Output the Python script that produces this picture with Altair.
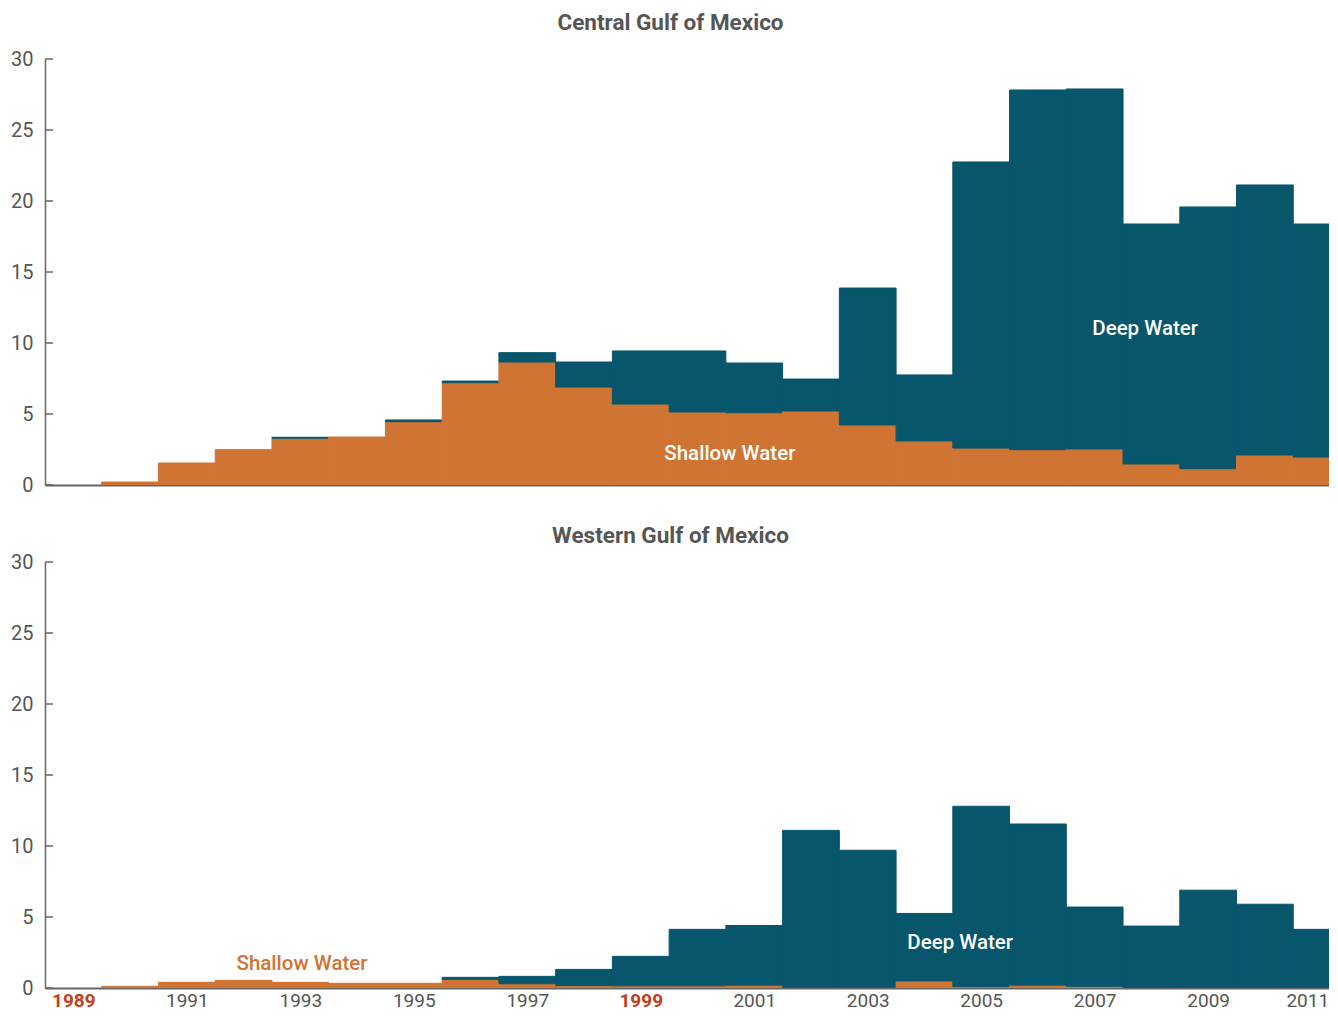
import altair as alt
import pandas as pd

years = list(range(1989, 2012))

central_shallow = [0, 0.21, 1.55, 2.49, 3.29, 3.38, 4.46, 7.2, 8.66, 6.9, 5.7, 5.14,
                   5.09, 5.21, 4.23, 3.1, 2.6, 2.49, 2.54, 1.48, 1.15, 2.11, 1.97]
central_deep = [0, 0, 0, 0, 0.07, 0, 0.12, 0.12, 0.66, 1.76, 3.74, 4.3,
                3.5, 2.25, 9.64, 4.65, 20.15, 25.33, 25.35, 16.9, 18.43, 19.02, 16.41]

western_shallow = [0, 0.12, 0.4, 0.54, 0.4, 0.33, 0.33, 0.61, 0.3, 0.17, 0.15, 0.15,
                   0.2, 0.05, 0.05, 0.5, 0.1, 0.2, 0.12, 0.03, 0.03, 0.03, 0.03]
western_deep = [0, 0, 0, 0, 0, 0, 0, 0.14, 0.52, 1.14, 2.08, 3.98,
                4.2, 11.05, 9.65, 4.75, 12.7, 11.35, 5.58, 4.33, 6.86, 5.87, 4.1]

y_ticks = [0, 5, 10, 15, 20, 25, 30]
x_label_years = list(range(1989, 2012, 2))
highlight_years = [1989, 1999]

central_labels = {"text": ["Deep Water", "Shallow Water"],
                  "x": [2007.89, 2000.57], "y": [10.56, 1.76],
                  "color": ["#ffffff", "#ffffff"]}
western_labels = {"text": ["Deep Water", "Shallow Water"],
                  "x": [2004.63, 1993.03], "y": [2.74, 1.26],
                  "color": ["#ffffff", "#d07434"]}

TEAL = "#07566c"
ORANGE = "#d07434"
GRAY = "#555555"
AXIS = "#666666"
RED = "#c4401a"
FONT = "Roboto"

PLOT_W = 1284
PLOT_H = 426


def stack_df(shallow, deep):
    rows = []
    for yr, s, d in zip(years, shallow, deep):
        if s > 0:
            rows.append({"year": yr, "kind": "Shallow", "y0": 0, "y1": s})
        if d > 0:
            rows.append({"year": yr, "kind": "Deep", "y0": s, "y1": s + d})
    return pd.DataFrame(rows)


x_scale = alt.Scale(domain=[1988.5, 2011.13], nice=False, zero=False)
y_scale = alt.Scale(domain=[0, 30], nice=False, zero=True)

y_axis = alt.Axis(values=y_ticks, ticks=False, tickSize=0, grid=False, title=None,
                  domainColor=AXIS, domainWidth=1.5, labelPadding=12,
                  labelFontSize=20, labelColor=GRAY, labelFont=FONT,
                  minExtent=37, maxExtent=37)


def panel(shallow, deep, labels, title, title_offset, show_labels):
    df = stack_df(shallow, deep)
    if show_labels:
        x_axis = alt.Axis(values=x_label_years, format="d", ticks=False, tickSize=0,
                          grid=False, title=None, domainColor=AXIS, domainWidth=2,
                          labelPadding=3, labelFontSize=19, labelFont=FONT,
                          labelFlush=20, labelFlushOffset=7,
                          labelColor=alt.expr(
                              f"indexof({highlight_years}, datum.value) >= 0 ? '{RED}' : '{GRAY}'"),
                          labelFontWeight=alt.expr(
                              f"indexof({highlight_years}, datum.value) >= 0 ? 'bold' : 'normal'"))
    else:
        x_axis = alt.Axis(labels=False, ticks=False, tickSize=0, grid=False, title=None,
                          domainColor=AXIS, domainWidth=2)

    bars = alt.Chart(df).transform_calculate(
        x0="datum.year - 0.5", x1="datum.year + 0.5"
    ).mark_rect(clip=True, strokeWidth=1).encode(
        x=alt.X("x0:Q", scale=x_scale, axis=x_axis),
        x2="x1:Q",
        y=alt.Y("y0:Q", scale=y_scale, axis=y_axis),
        y2="y1:Q",
        color=alt.Color("kind:N", scale=alt.Scale(domain=["Shallow", "Deep"],
                                                  range=[ORANGE, TEAL]), legend=None),
        stroke=alt.Stroke("kind:N", scale=alt.Scale(domain=["Shallow", "Deep"],
                                                    range=[ORANGE, TEAL]), legend=None),
    )

    ticks = alt.Chart(pd.DataFrame({"v": y_ticks})).mark_rule(
        color=AXIS, strokeWidth=1.5
    ).encode(
        x=alt.value(0), x2=alt.value(8),
        y=alt.Y("v:Q", scale=y_scale, axis=y_axis),
    )

    texts = alt.Chart(pd.DataFrame(labels)).mark_text(
        fontSize=20.5, fontWeight=500, font=FONT, baseline="alphabetic", align="center"
    ).encode(
        x=alt.X("x:Q", scale=x_scale, axis=x_axis),
        y=alt.Y("y:Q", scale=y_scale, axis=y_axis),
        text="text:N",
        color=alt.Color("color:N", scale=None),
    )

    return alt.layer(bars, ticks, texts).properties(
        width=PLOT_W, height=PLOT_H,
        title=alt.TitleParams(title, fontSize=22.5, font=FONT, fontWeight="bold",
                              color=GRAY, anchor="middle", frame="group", dx=-16.5,
                              offset=title_offset),
    )


top = panel(central_shallow, central_deep, central_labels, "Central Gulf of Mexico", 15, False)
bottom = panel(western_shallow, western_deep, western_labels, "Western Gulf of Mexico", 5, True)

chart = alt.vconcat(top, bottom, spacing=29,
                    padding={"left": 0, "top": 3, "right": 0, "bottom": 0}).configure_view(
    stroke=None).configure_concat(spacing=29)

chart.save("out.html", embed_options={"renderer": "svg", "actions": False})
